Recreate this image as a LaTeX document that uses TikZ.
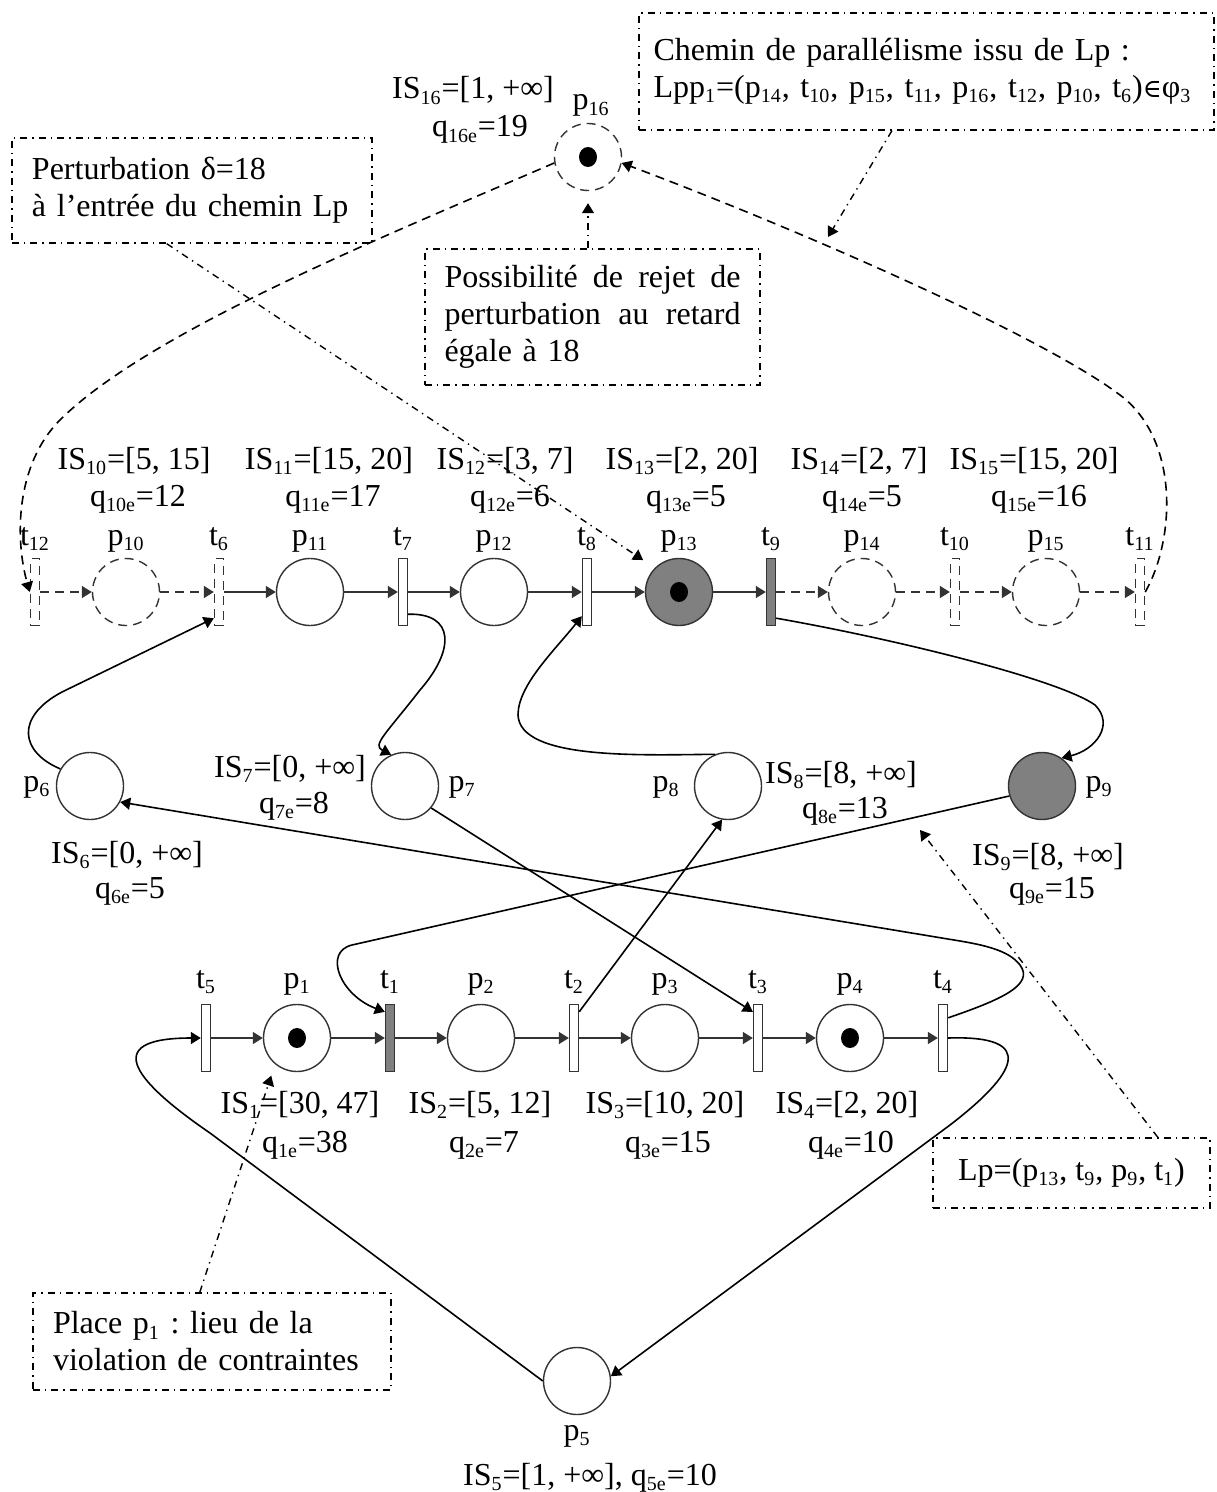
\documentclass[tikz,border=0pt]{standalone}
\usepackage{fontspec}
\setmainfont{Liberation Serif}
\newfontfamily\elemfont[Scale=0.8]{DejaVu Serif}
\usetikzlibrary{calc,positioning,arrows.meta}
\newcommand\sbs[1]{\textsubscript{\fontsize{10pt}{10pt}\selectfont #1}}

\begin{document}
\begin{tikzpicture}[x=0.5pt,y=-0.5pt,
  font=\fontsize{16pt}{18.5pt}\selectfont\frenchspacing,
  place/.style={circle,draw=black!80,fill=white,line width=0.7pt,
                minimum size=33.5pt,inner sep=0pt},
  vplace/.style={place,dash pattern=on 4.5pt off 3pt},
  trans/.style={rectangle,draw=black!80,fill=white,line width=0.7pt,
                minimum width=4.5pt,minimum height=33.5pt,inner sep=0pt},
  vtrans/.style={trans,dash pattern=on 4.5pt off 3pt},
  hot/.style={fill=black!50},
  token/.style={fill=black},
  lbl/.style={inner sep=0pt,anchor=base},
  arc/.style={-{Triangle[length=5pt,width=6pt]},black!80,line width=0.75pt},
  varc/.style={arc,dash pattern=on 4.5pt off 3pt},
  link/.style={-{Triangle[length=5pt,width=6pt]},line width=0.8pt},
  vlink/.style={link,dash pattern=on 4.5pt off 3pt},
  note/.style={draw,line width=0.7pt,inner sep=0pt,
               dash pattern=on 3.5pt off 2.5pt on 0.7pt off 2.5pt},
  narr/.style={-{Triangle[length=5pt,width=6pt]},line width=0.7pt,
               dash pattern=on 3.5pt off 2.5pt on 0.7pt off 2.5pt}]

\useasboundingbox[fill=white] (0,0) rectangle (1216,1492);

%% annotation boxes
\node[note,minimum width=287.5pt,minimum height=58.5pt,text width=273pt,align=left]
  (chemin) at (926.5,71.5) {Chemin de parallélisme issu de Lp :\\
  Lpp\sbs{1}=(p\sbs{14}, t\sbs{10}, p\sbs{15}, t\sbs{11}, p\sbs{16}, t\sbs{12}, p\sbs{10}, t\sbs{6}){\elemfont ∈}φ\sbs{3}};
\node[note,minimum width=180pt,minimum height=52.5pt,text width=160pt,align=left]
  (pert) at (192,190.5) {Perturbation δ=18\\à l’entrée du chemin Lp};
\node[note,minimum width=167.5pt,minimum height=68pt,text width=148pt,align=left]
  (poss) at (592.5,317) {\makebox[148pt]{Possibilité\hfill de\hfill rejet\hfill de}\\
  \makebox[148pt]{perturbation\hfill au\hfill retard}\\égale à 18};
\node[note,minimum width=138.5pt,minimum height=35pt]
  (lp) at (1071.5,1173) {Lp=(p\sbs{13}, t\sbs{9}, p\sbs{9}, t\sbs{1})};
\node[note,minimum width=179pt,minimum height=48.5pt,text width=159pt,align=left]
  (viol) at (212,1341.5) {Place p\sbs{1} : lieu de la\\violation de contraintes};

%% p16
\node[vplace] (p16) at (588,157) {};
\node[lbl] (lp16) at (591,110) {p\sbs{16}};
\node[lbl] (is16) at (473,99) {IS\sbs{16}=[1, +∞]};
\node[lbl] (q16) at (480,137) {q\sbs{16e}=19};

%% top row
\node[vtrans] (t12) at (35,592) {};
\node[vplace] (p10) at (126,592) {};
\node[vtrans] (t6) at (219,592) {};
\node[place] (p11) at (310,592) {};
\node[trans] (t7) at (403,592) {};
\node[place] (p12) at (494,592) {};
\node[trans] (t8) at (587,592) {};
\node[place,hot] (p13) at (679,592) {};
\node[trans,hot] (t9) at (771,592) {};
\node[vplace] (p14) at (862,592) {};
\node[vtrans] (t10) at (955,592) {};
\node[vplace] (p15) at (1046,592) {};
\node[vtrans] (t11) at (1140,592) {};

\node[lbl] (lt12) at (35,545) {t\sbs{12}};
\node[lbl] (lp10) at (126,545) {p\sbs{10}};
\node[lbl] (lt6) at (219,545) {t\sbs{6}};
\node[lbl] (lp11) at (310,545) {p\sbs{11}};
\node[lbl] (lt7) at (403,545) {t\sbs{7}};
\node[lbl] (lp12) at (494,545) {p\sbs{12}};
\node[lbl] (lt8) at (587,545) {t\sbs{8}};
\node[lbl] (lp13) at (679,545) {p\sbs{13}};
\node[lbl] (lt9) at (771,545) {t\sbs{9}};
\node[lbl] (lp14) at (862,545) {p\sbs{14}};
\node[lbl] (lt10) at (955,545) {t\sbs{10}};
\node[lbl] (lp15) at (1046,545) {p\sbs{15}};
\node[lbl] (lt11) at (1140,545) {t\sbs{11}};

\node[lbl] (is10) at (134,469) {IS\sbs{10}=[5, 15]};
\node[lbl] (is11) at (329,469) {IS\sbs{11}=[15, 20]};
\node[lbl] (is12) at (505,469) {IS\sbs{12}=[3, 7]};
\node[lbl] (is13) at (682,469) {IS\sbs{13}=[2, 20]};
\node[lbl] (is14) at (859,469) {IS\sbs{14}=[2, 7]};
\node[lbl] (is15) at (1034,469) {IS\sbs{15}=[15, 20]};
\node[lbl] (q10) at (138,506) {q\sbs{10e}=12};
\node[lbl] (q11) at (333,506) {q\sbs{11e}=17};
\node[lbl] (q12) at (510,506) {q\sbs{12e}=6};
\node[lbl] (q13) at (686,506) {q\sbs{13e}=5};
\node[lbl] (q14) at (862,506) {q\sbs{14e}=5};
\node[lbl] (q15) at (1039,506) {q\sbs{15e}=16};

%% middle row
\node[place] (p6) at (90,786) {};
\node[place] (p7) at (405,786) {};
\node[place] (p8) at (728,786) {};
\node[place,hot] (p9) at (1042,786) {};
\node[lbl] (lp6) at (37,791) {p\sbs{6}};
\node[lbl] (lp7) at (462,791) {p\sbs{7}};
\node[lbl] (lp8) at (666,791) {p\sbs{8}};
\node[lbl] (lp9) at (1099,791) {p\sbs{9}};
\node[lbl] (is6) at (127,863) {IS\sbs{6}=[0, +∞]};
\node[lbl] (q6) at (130,898) {q\sbs{6e}=5};
\node[lbl] (is7) at (290,777) {IS\sbs{7}=[0, +∞]};
\node[lbl] (q7) at (294,813) {q\sbs{7e}=8};
\node[lbl] (is8) at (841,783) {IS\sbs{8}=[8, +∞]};
\node[lbl] (q8) at (845,818) {q\sbs{8e}=13};
\node[lbl] (is9) at (1048,865) {IS\sbs{9}=[8, +∞]};
\node[lbl] (q9) at (1052,898) {q\sbs{9e}=15};

%% bottom row
\node[trans] (t5) at (206,1038) {};
\node[place] (p1) at (297,1038) {};
\node[trans,hot] (t1) at (390,1038) {};
\node[place] (p2) at (481,1038) {};
\node[trans] (t2) at (574,1038) {};
\node[place] (p3) at (665,1038) {};
\node[trans] (t3) at (758,1038) {};
\node[place] (p4) at (850,1038) {};
\node[trans] (t4) at (943,1038) {};
\node[place] (p5) at (577,1381) {};

\node[lbl] (lt5) at (206,988) {t\sbs{5}};
\node[lbl] (lp1) at (297,988) {p\sbs{1}};
\node[lbl] (lt1) at (390,988) {t\sbs{1}};
\node[lbl] (lp2) at (481,988) {p\sbs{2}};
\node[lbl] (lt2) at (574,988) {t\sbs{2}};
\node[lbl] (lp3) at (665,988) {p\sbs{3}};
\node[lbl] (lt3) at (758,988) {t\sbs{3}};
\node[lbl] (lp4) at (850,988) {p\sbs{4}};
\node[lbl] (lt4) at (943,988) {t\sbs{4}};
\node[lbl] (is1) at (300,1113) {IS\sbs{1}=[30, 47]};
\node[lbl] (is2) at (480,1113) {IS\sbs{2}=[5, 12]};
\node[lbl] (is3) at (665,1113) {IS\sbs{3}=[10, 20]};
\node[lbl] (is4) at (847,1113) {IS\sbs{4}=[2, 20]};
\node[lbl] (q1) at (305,1152) {q\sbs{1e}=38};
\node[lbl] (q2) at (484,1152) {q\sbs{2e}=7};
\node[lbl] (q3) at (668,1152) {q\sbs{3e}=15};
\node[lbl] (q4) at (851,1152) {q\sbs{4e}=10};
\node[lbl] (lp5) at (577,1440) {p\sbs{5}};
\node[lbl] (is5) at (590,1485) {IS\sbs{5}=[1, +∞], q\sbs{5e}=10};

%% tokens
\fill[token] (p16) ellipse (4.5pt and 5pt);
\fill[token] (p13) ellipse (4.5pt and 5pt);
\fill[token] (p1) ellipse (4.5pt and 5pt);
\fill[token] (p4) ellipse (4.5pt and 5pt);

%% straight arcs
\draw[varc] (t12) -- (p10);  \draw[varc] (p10) -- (t6);
\draw[arc] (t6) -- (p11);    \draw[arc] (p11) -- (t7);
\draw[arc] (t7) -- (p12);    \draw[arc] (p12) -- (t8);
\draw[arc] (t8) -- (p13);    \draw[arc] (p13) -- (t9);
\draw[varc] (t9) -- (p14);   \draw[varc] (p14) -- (t10);
\draw[varc] (t10) -- (p15);  \draw[varc] (p15) -- (t11);

\draw[arc] (t5) -- (p1);  \draw[arc] (p1) -- (t1);
\draw[arc] (t1) -- (p2);  \draw[arc] (p2) -- (t2);
\draw[arc] (t2) -- (p3);  \draw[arc] (p3) -- (t3);
\draw[arc] (t3) -- (p4);  \draw[arc] (p4) -- (t4);

%% curved arcs
\draw[link] (p6.150) .. controls (20,752) and (15,717) .. (62,692)
  -- ($(t6.south west)+(0,-8)$);
\draw[link] ($(t7.south east)+(0,-12)$) .. controls (455,613) and (455,650) .. (420,690)
  .. controls (385,735) and (372,745) .. (p7.114);
\draw[link] (p8.112) .. controls (640,755) and (520,760) .. (518,715)
  .. controls (518,685) and (555,650) .. ($(t8.south west)+(0,-10)$);
\draw[link] ($(t9.south east)+(0,-8)$) .. controls (900,640) and (1060,680) .. (1095,705)
  .. controls (1115,725) and (1095,750) .. (p9.55);
\draw[link] (p9.197) -- (352,945) .. controls (323,952) and (340,995)
  .. ($(t1.north west)+(0,8)$);
\draw[link] ($(t4.north east)+(0,14)$) .. controls (1000,1000) and (1035,985) .. (1020,965)
  .. controls (1010,952) and (990,946) .. (960,941) -- (p6.-28);
\draw[link] (p7.-40) -- ($(t3.north west)+(0,8)$);
\draw[link] ($(t2.north east)+(0,8)$) -- (p8.-100);
\draw[link] (t4.east) .. controls (1040,1035) and (1015,1075) .. (950,1125) -- (p5.8);
\draw[link] (p5.180) -- (210,1133) .. controls (140,1085) and (95,1038) .. (t5.west);

\draw[vlink] (p16.190) .. controls (400,230) and (150,330) .. (60,420)
  .. controls (15,465) and (15,540) .. (t12.west);
\draw[vlink] (t11.east) .. controls (1175,540) and (1180,440) .. (1120,395)
  .. controls (1040,335) and (800,230) .. (p16.-10);

%% annotation pointers
\coordinate (chtip) at (828,237);
\coordinate (lptip) at (920,830);
\draw[narr] ($(chemin.south west)!0.44!(chemin.south east)$) -- (chtip);
\draw[narr,shorten >=7pt] ($(pert.south west)!0.43!(pert.south east)$) -- (p13.135);
\draw[narr,shorten >=6pt] (p16.south |- poss.north) -- (p16.south);
\draw[narr] ($(lp.north west)!0.81!(lp.north east)$) -- (lptip);
\draw[narr,shorten >=6pt] ($(viol.north west)!0.466!(viol.north east)$) -- (p1.-130);
\end{tikzpicture}
\end{document}
